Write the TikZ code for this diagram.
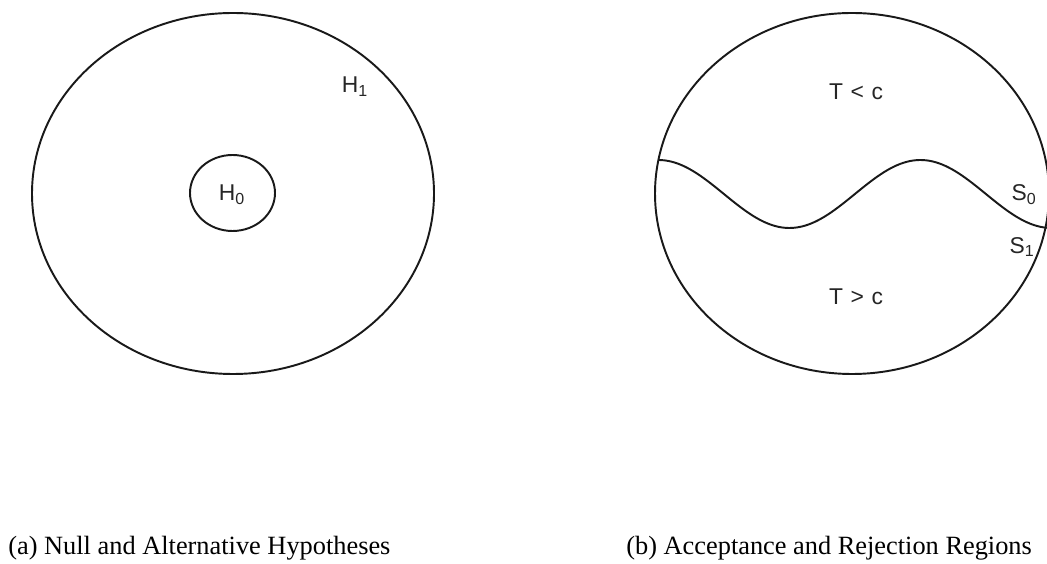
\documentclass[tikz,border=0pt]{standalone}
\usepackage{fontspec}
\setmainfont{Liberation Sans}
\newfontfamily\capfont{Liberation Serif}
\usepackage{tikz}
\usetikzlibrary{positioning,calc}

\begin{document}
\begin{tikzpicture}[
    font=\fontsize{13}{15}\selectfont,
    region/.style={line width=1.1pt, black!90},
    lbl/.style={inner sep=0pt, text=black!85},
    caption/.style={anchor=west, inner sep=0pt, font=\capfont\fontsize{15}{18}\selectfont},
  ]
  \clip (0,0) rectangle (20.94,11.26);

  % (a) hypothesis space with the null inside
  \draw[region] (4.66,7.39) ellipse [x radius=4.02, y radius=3.61];
  \draw[region] (4.65,7.40) ellipse [x radius=0.85, y radius=0.76];
  \node[lbl] (h1) at (7.10,9.52) {H\textsubscript{1}};
  \node[lbl] (h0) at (4.64,7.36) {H\textsubscript{0}};

  % (b) sample space split by the boundary T = c
  \draw[region] (17.04,7.39) ellipse [x radius=3.94, y radius=3.61];
  \draw[region, domain=13.168:20.94, samples=120, smooth]
    plot (\x, {7.38 + 0.68*cos(360*(\x-13.168)/5.24)});
  \node[lbl] (tlow) at (17.12,9.42) {T\,\,<\,\,c};
  \node[lbl] (thigh) at (17.12,5.32) {T\,\,>\,\,c};
  \node[lbl] (s0) at (20.48,7.36) {S\textsubscript{0}};
  \node[lbl] (s1) at (20.44,6.32) {S\textsubscript{1}};

  \node[caption] (capa) at (0.16,0.30) {(a) Null and Alternative Hypotheses};
  \node[caption] (capb) at (12.52,0.30) {(b) Acceptance and Rejection Regions};
\end{tikzpicture}
\end{document}
